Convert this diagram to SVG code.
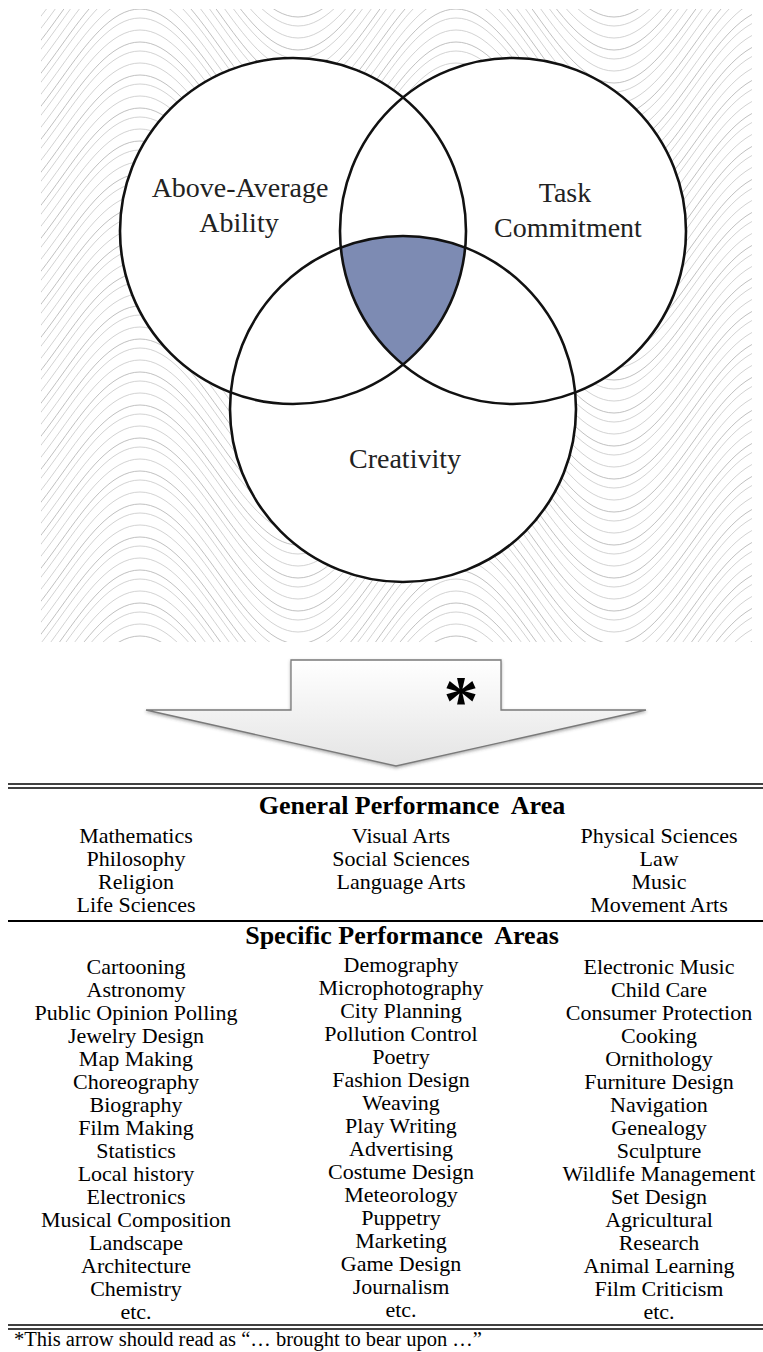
<svg xmlns="http://www.w3.org/2000/svg" width="763" height="1352" viewBox="0 0 763 1352">
<defs>
<style>
.venn{font-family:"Liberation Serif","Times New Roman",serif;font-size:28px;fill:#222;text-anchor:middle}
.item{font-family:"Liberation Serif","Times New Roman",serif;font-size:22px;fill:#000;text-anchor:middle}
.head{font-family:"Liberation Serif","Times New Roman",serif;font-size:26px;font-weight:bold;fill:#000;text-anchor:middle}
.note{font-family:"Liberation Serif","Times New Roman",serif;font-size:20.5px;fill:#000}
.ring{fill:none;stroke:#111;stroke-width:2.6}
.disc{fill:#fff;stroke:none}
.wv{fill:none;stroke:#b0b0b0;stroke-width:0.8}
.wv2{fill:none;stroke:#c6c6c6;stroke-width:0.8}
.rule{stroke:#000;stroke-width:1.6}
</style>
<path id="wc" d="M0,0 C57.5,0 100.5,140 158,140 S258.5,0 316,0"/>
<g id="wset">
<use href="#wc" transform="translate(0,33)"/>
<use href="#wc"/>
<use href="#wc" transform="translate(0,-33)"/>
<use href="#wc" transform="translate(0,-66)"/>
<use href="#wc" transform="translate(0,-99)"/>
<use href="#wc" transform="translate(0,-132)"/>
<use href="#wc" transform="translate(0,-165)"/>
</g>
<pattern id="waves" patternUnits="userSpaceOnUse" x="140" y="9" width="316" height="33">
<use href="#wset" class="wv"/>
<use href="#wset" class="wv2" transform="translate(0,9)"/>
<use href="#wset" class="wv2" transform="translate(0,21)"/>
</pattern>
<linearGradient id="arrowFill" x1="0" y1="0" x2="0" y2="1">
<stop offset="0" stop-color="#ffffff"/>
<stop offset="1" stop-color="#e4e4e4"/>
</linearGradient>
<filter id="shadow" x="-10%" y="-20%" width="120%" height="150%">
<feDropShadow dx="0" dy="1.5" stdDeviation="1.5" flood-color="#444" flood-opacity="0.45"/>
</filter>
</defs>

<rect width="763" height="1352" fill="#fff"/>
<rect id="background" x="41" y="9" width="711" height="633" fill="url(#waves)"/>

<g id="venn-fills">
<circle class="disc" cx="293" cy="231" r="173"/>
<circle class="disc" cx="513" cy="231" r="173"/>
<circle class="disc" cx="403" cy="409" r="173"/>
<path id="giftedness" d="M340.7,247.5 A173,173 0 0,1 465.3,247.5 A173,173 0 0,1 403,364.5 A173,173 0 0,1 340.7,247.5 Z" fill="#7d8bb3"/>
</g>

<g id="node-ability">
<circle class="ring" cx="293" cy="231" r="173"/>
<text class="venn" x="240" y="197">Above-Average</text>
<text class="venn" x="239" y="232">Ability</text>
</g>
<g id="node-task">
<circle class="ring" cx="513" cy="231" r="173"/>
<text class="venn" x="565" y="202">Task</text>
<text class="venn" x="568" y="237">Commitment</text>
</g>
<g id="node-creativity">
<circle class="ring" cx="403" cy="409" r="173"/>
<text class="venn" x="405" y="468">Creativity</text>
</g>

<g id="connectors">
<path d="M291,660 L501,660 L501,710 L646,710 L396,766 L146,710 L291,710 Z" fill="url(#arrowFill)" stroke="#7a7a7a" stroke-width="1.3" stroke-linejoin="miter" filter="url(#shadow)"/>
<text x="461" y="724" font-family="Liberation Serif, serif" font-weight="bold" font-size="70" text-anchor="middle" fill="#000">*</text>
</g>

<g id="table">
<line class="rule" x1="8" y1="784" x2="763" y2="784"/>
<line class="rule" x1="8" y1="788" x2="763" y2="788"/>
<text class="head" x="412" y="814" xml:space="preserve">General Performance  Area</text>
<text class="item"><tspan x="136" y="843">Mathematics</tspan><tspan x="136" y="866">Philosophy</tspan><tspan x="136" y="889">Religion</tspan><tspan x="136" y="912">Life Sciences</tspan></text>
<text class="item"><tspan x="401" y="843">Visual Arts</tspan><tspan x="401" y="866">Social Sciences</tspan><tspan x="401" y="889">Language Arts</tspan></text>
<text class="item"><tspan x="659" y="843">Physical Sciences</tspan><tspan x="659" y="866">Law</tspan><tspan x="659" y="889">Music</tspan><tspan x="659" y="912">Movement Arts</tspan></text>
<line x1="8" y1="921" x2="763" y2="921" stroke="#000" stroke-width="2"/>
<text class="head" x="402" y="944" xml:space="preserve">Specific Performance  Areas</text>
<text class="item"><tspan x="136" y="974">Cartooning</tspan><tspan x="136" y="997">Astronomy</tspan><tspan x="136" y="1020">Public Opinion Polling</tspan><tspan x="136" y="1043">Jewelry Design</tspan><tspan x="136" y="1066">Map Making</tspan><tspan x="136" y="1089">Choreography</tspan><tspan x="136" y="1112">Biography</tspan><tspan x="136" y="1135">Film Making</tspan><tspan x="136" y="1158">Statistics</tspan><tspan x="136" y="1181">Local history</tspan><tspan x="136" y="1204">Electronics</tspan><tspan x="136" y="1227">Musical Composition</tspan><tspan x="136" y="1250">Landscape</tspan><tspan x="136" y="1273">Architecture</tspan><tspan x="136" y="1296">Chemistry</tspan><tspan x="136" y="1319">etc.</tspan></text>
<text class="item"><tspan x="401" y="972">Demography</tspan><tspan x="401" y="995">Microphotography</tspan><tspan x="401" y="1018">City Planning</tspan><tspan x="401" y="1041">Pollution Control</tspan><tspan x="401" y="1064">Poetry</tspan><tspan x="401" y="1087">Fashion Design</tspan><tspan x="401" y="1110">Weaving</tspan><tspan x="401" y="1133">Play Writing</tspan><tspan x="401" y="1156">Advertising</tspan><tspan x="401" y="1179">Costume Design</tspan><tspan x="401" y="1202">Meteorology</tspan><tspan x="401" y="1225">Puppetry</tspan><tspan x="401" y="1248">Marketing</tspan><tspan x="401" y="1271">Game Design</tspan><tspan x="401" y="1294">Journalism</tspan><tspan x="401" y="1317">etc.</tspan></text>
<text class="item"><tspan x="659" y="974">Electronic Music</tspan><tspan x="659" y="997">Child Care</tspan><tspan x="659" y="1020">Consumer Protection</tspan><tspan x="659" y="1043">Cooking</tspan><tspan x="659" y="1066">Ornithology</tspan><tspan x="659" y="1089">Furniture Design</tspan><tspan x="659" y="1112">Navigation</tspan><tspan x="659" y="1135">Genealogy</tspan><tspan x="659" y="1158">Sculpture</tspan><tspan x="659" y="1181">Wildlife Management</tspan><tspan x="659" y="1204">Set Design</tspan><tspan x="659" y="1227">Agricultural</tspan><tspan x="659" y="1250">Research</tspan><tspan x="659" y="1273">Animal Learning</tspan><tspan x="659" y="1296">Film Criticism</tspan><tspan x="659" y="1319">etc.</tspan></text>
<line class="rule" x1="8" y1="1325" x2="763" y2="1325"/>
<line class="rule" x1="8" y1="1329" x2="763" y2="1329"/>
</g>

<g id="footnote">
<text class="note" x="14" y="1346">*This arrow should read as “… brought to bear upon …”</text>
</g>
</svg>
